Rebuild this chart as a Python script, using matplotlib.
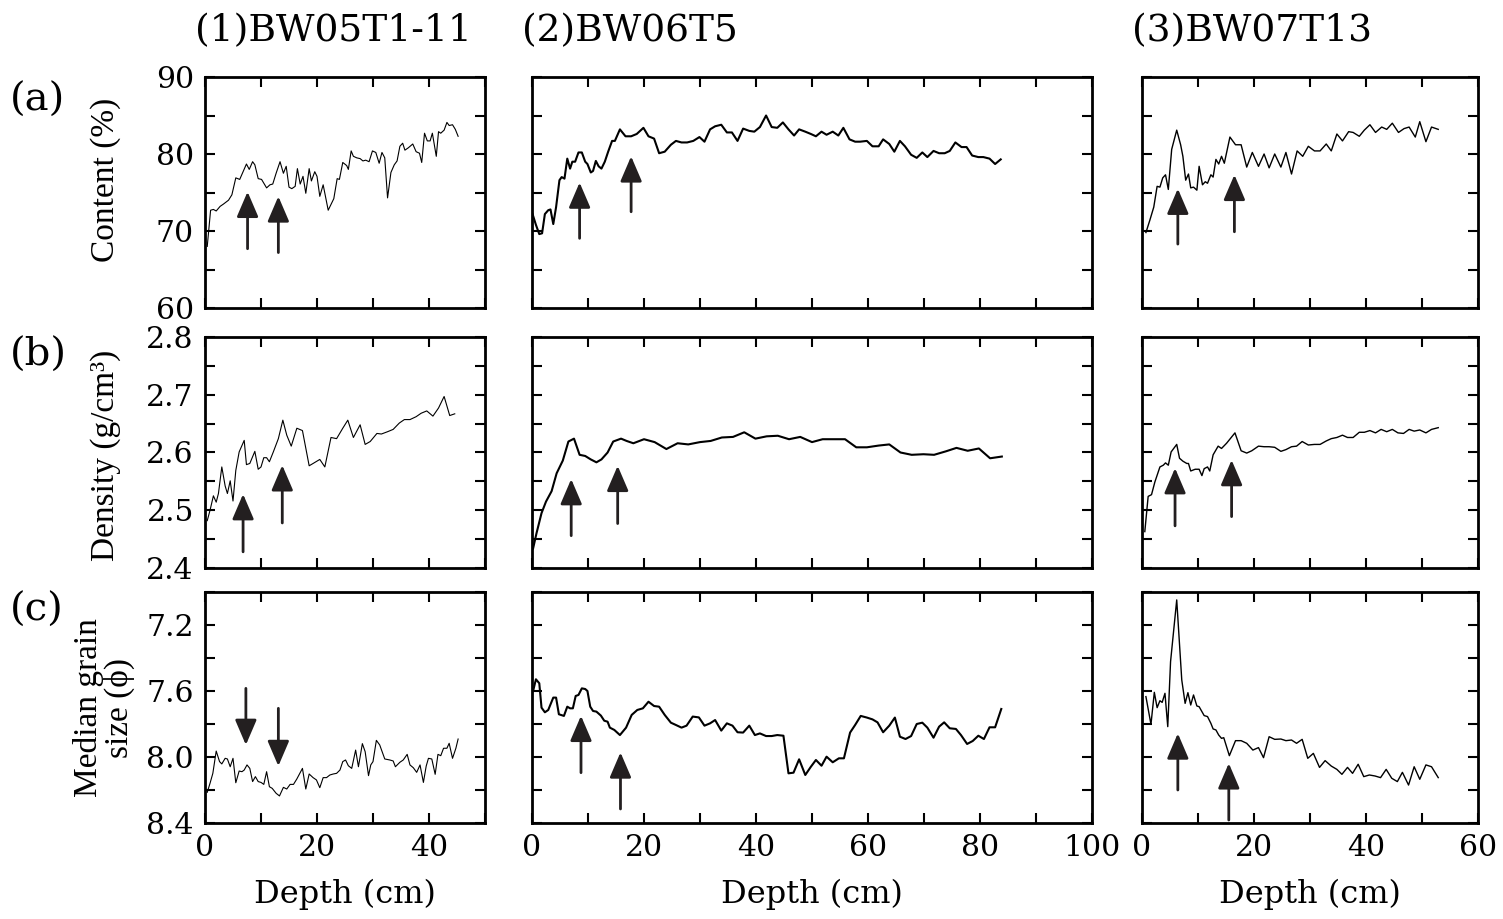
import matplotlib
matplotlib.use("Agg")
import matplotlib.pyplot as plt
from matplotlib.ticker import MultipleLocator, FixedLocator, NullFormatter

plt.rcParams['font.family'] = ['DejaVu Serif']

#%% Data

# (1) BW05T1-11
d1_a = [0.4, 1.0, 1.5, 2.0, 2.7, 3.3, 4.2, 4.8, 5.5, 6.2, 6.8, 7.4, 7.9, 8.5, 8.9, 9.5, 10.1, 11.0, 11.6, 12.1,
        12.7, 13.4, 14.0, 14.5, 15.0, 15.5, 16.1, 16.5, 17.0, 17.5, 18.0, 18.6, 19.0, 19.6, 20.0, 20.5, 21.1, 22.0,
        23.0, 23.6, 24.0, 24.6, 25.3, 25.6, 26.1, 26.5, 27.1, 27.7, 28.2, 28.7, 29.3, 29.9, 30.5, 31.1, 31.6, 32.1,
        32.6, 33.2, 33.8, 34.3, 34.8, 35.3, 35.7, 36.3, 37.1, 37.7, 38.3, 38.7, 39.2, 39.7, 40.2, 40.6, 41.3, 41.7,
        42.1, 42.7, 43.2, 43.6, 44.2, 44.7, 45.2]
content1 = [68.0, 72.7, 72.8, 72.6, 73.2, 73.5, 74.0, 74.7, 76.9, 76.7, 77.7, 78.7, 78.0, 79.0, 78.6, 76.8, 76.7,
            75.6, 76.0, 76.1, 77.5, 79.0, 77.5, 78.4, 75.7, 75.5, 75.8, 78.1, 76.1, 77.1, 74.9, 78.1, 76.5, 77.7,
            77.1, 74.5, 76.0, 72.7, 74.2, 76.8, 76.7, 78.9, 78.5, 78.0, 80.4, 79.7, 79.5, 79.4, 79.1, 79.2, 79.0,
            80.4, 80.2, 78.8, 80.2, 79.5, 74.3, 77.6, 78.6, 79.1, 81.0, 81.4, 80.5, 80.8, 81.3, 80.3, 80.1, 78.9,
            82.7, 81.7, 81.7, 82.7, 79.7, 82.9, 82.7, 83.1, 84.1, 83.7, 83.8, 83.2, 82.3]

d1_b = [0.4, 0.9, 1.5, 2.0, 2.4, 3.0, 3.6, 4.0, 4.5, 5.0, 5.5, 6.1, 7.0, 7.4, 8.0, 8.9, 9.5, 10.0, 10.5, 11.0,
        11.5, 12.2, 13.1, 13.9, 14.6, 15.4, 16.4, 17.4, 18.6, 19.3, 20.5, 21.4, 22.5, 23.5, 24.6, 25.5, 26.5,
        27.7, 28.6, 29.5, 30.7, 31.5, 32.6, 33.6, 34.7, 35.6, 36.6, 37.7, 38.6, 39.6, 40.7, 41.7, 42.7, 43.7, 44.6]
density1 = [2.482, 2.500, 2.525, 2.514, 2.529, 2.575, 2.542, 2.529, 2.551, 2.516, 2.569, 2.601, 2.621, 2.579,
            2.581, 2.602, 2.571, 2.575, 2.591, 2.591, 2.584, 2.601, 2.624, 2.656, 2.630, 2.611, 2.642, 2.638,
            2.577, 2.581, 2.588, 2.575, 2.626, 2.624, 2.642, 2.656, 2.626, 2.648, 2.614, 2.619, 2.633, 2.632,
            2.636, 2.640, 2.651, 2.657, 2.657, 2.662, 2.668, 2.672, 2.663, 2.677, 2.697, 2.664, 2.667]

d1_c = [0.4, 0.9, 1.4, 2.0, 2.6, 3.0, 3.6, 4.0, 4.5, 5.0, 5.5, 6.1, 6.6, 7.0, 7.5, 8.0, 8.5, 9.0, 9.5, 10.0,
        10.5, 11.0, 11.5, 12.0, 12.7, 13.3, 14.0, 14.6, 15.2, 15.8, 16.4, 17.4, 18.0, 18.6, 19.3, 19.9, 20.5,
        21.1, 21.7, 22.3, 22.9, 23.5, 24.1, 24.6, 25.1, 25.6, 26.2, 26.9, 27.4, 28.1, 28.6, 29.2, 29.6, 30.0,
        30.6, 31.2, 32.1, 33.0, 33.6, 34.0, 34.8, 35.4, 36.1, 36.6, 37.2, 37.8, 38.4, 39.0, 39.5, 39.9, 40.5,
        41.1, 41.6, 42.1, 42.6, 43.2, 43.6, 44.2, 44.8, 45.2]
grain1 = [8.214, 8.159, 8.099, 7.964, 8.028, 8.042, 8.008, 8.012, 8.059, 8.008, 8.156, 8.085, 8.089, 8.079,
          8.048, 8.069, 8.149, 8.119, 8.149, 8.154, 8.166, 8.089, 8.180, 8.190, 8.220, 8.236, 8.184, 8.194,
          8.166, 8.166, 8.133, 8.069, 8.194, 8.103, 8.125, 8.139, 8.186, 8.125, 8.125, 8.109, 8.103, 8.099,
          8.079, 8.028, 8.018, 8.053, 8.069, 7.958, 8.059, 7.919, 7.968, 8.113, 8.048, 8.028, 7.899, 7.927,
          8.012, 8.018, 8.024, 8.059, 8.032, 8.018, 7.984, 8.048, 8.065, 8.093, 8.048, 8.154, 8.055, 8.008,
          8.012, 8.105, 7.984, 7.992, 7.947, 7.947, 7.917, 8.008, 7.947, 7.891]

# (2) BW06T5
d2_a = [0.1, 0.7, 1.3, 1.8, 2.3, 2.9, 3.3, 3.8, 4.3, 4.9, 5.3, 5.8, 6.3, 6.8, 7.2, 7.7, 8.3, 8.9, 9.5, 9.9,
        10.5, 10.9, 11.4, 11.9, 12.4, 13.0, 13.6, 14.3, 14.8, 15.7, 16.7, 17.7, 18.7, 19.9, 20.8, 21.8, 22.7,
        23.7, 24.8, 25.7, 26.7, 27.7, 28.8, 29.9, 30.8, 31.8, 32.7, 33.8, 34.8, 35.7, 36.7, 37.7, 38.8, 39.7,
        40.7, 41.8, 42.8, 43.8, 44.8, 45.8, 46.8, 47.7, 48.8, 49.8, 50.7, 51.7, 52.6, 53.7, 54.7, 55.6, 56.7,
        57.7, 58.6, 59.8, 60.8, 61.9, 62.7, 63.8, 64.7, 65.7, 66.6, 67.7, 68.7, 69.7, 70.6, 71.7, 72.7, 73.7,
        74.6, 75.6, 76.7, 77.6, 78.6, 79.7, 80.6, 81.7, 82.7, 83.7]
content2 = [72.2, 70.8, 69.6, 69.7, 72.2, 72.7, 72.8, 70.9, 73.1, 76.6, 77.0, 76.8, 79.4, 78.1, 79.0, 79.0,
            80.2, 80.2, 79.0, 78.7, 77.6, 77.8, 79.1, 78.4, 78.1, 79.0, 80.3, 81.7, 81.7, 83.2, 82.3, 82.3,
            82.6, 83.4, 82.3, 82.0, 80.1, 80.3, 81.2, 81.7, 81.5, 81.5, 81.7, 82.2, 81.6, 83.2, 83.6, 83.8,
            82.8, 82.8, 81.7, 83.3, 83.0, 82.9, 83.5, 85.0, 83.5, 83.4, 84.1, 83.2, 82.4, 83.2, 82.9, 82.6,
            82.3, 82.9, 82.5, 82.9, 82.4, 83.4, 81.9, 81.6, 81.6, 81.7, 81.0, 81.0, 81.9, 81.3, 80.3, 81.7,
            81.0, 79.9, 79.5, 80.2, 79.6, 80.4, 80.1, 80.1, 80.4, 81.5, 80.9, 80.9, 79.8, 79.6, 79.6, 79.4,
            78.7, 79.3]

d2_b = [0.2, 0.8, 1.7, 2.5, 3.5, 4.4, 5.5, 6.5, 7.5, 8.5, 9.5, 10.5, 11.5, 12.4, 13.5, 14.5, 15.9, 16.9, 18.1,
        20.0, 21.9, 24.0, 26.0, 27.9, 30.0, 31.9, 33.9, 35.9, 37.9, 39.9, 41.9, 43.9, 45.9, 47.9, 50.0, 51.9,
        53.9, 55.9, 57.9, 59.8, 61.9, 63.8, 65.8, 67.8, 69.9, 71.8, 73.9, 75.8, 77.8, 79.8, 81.8, 83.9]
density2 = [2.434, 2.460, 2.495, 2.515, 2.533, 2.564, 2.586, 2.619, 2.624, 2.596, 2.594, 2.588, 2.583, 2.588,
            2.600, 2.619, 2.624, 2.620, 2.616, 2.623, 2.618, 2.606, 2.616, 2.614, 2.618, 2.620, 2.626, 2.627,
            2.635, 2.624, 2.628, 2.629, 2.623, 2.627, 2.618, 2.623, 2.623, 2.623, 2.609, 2.609, 2.612, 2.614,
            2.600, 2.596, 2.597, 2.596, 2.602, 2.608, 2.603, 2.607, 2.590, 2.593]

d2_c = [0.2, 0.7, 1.3, 1.7, 2.3, 2.9, 3.8, 4.3, 4.8, 5.7, 6.3, 6.8, 7.3, 7.8, 8.3, 8.9, 9.5, 9.9, 10.4, 10.9,
        11.5, 12.3, 12.9, 13.5, 13.9, 14.7, 15.7, 16.8, 17.8, 18.8, 19.8, 20.8, 21.8, 22.7, 23.7, 24.8, 25.7,
        26.7, 27.6, 28.7, 29.8, 30.8, 31.8, 32.7, 33.8, 34.8, 35.8, 36.7, 37.7, 38.8, 39.8, 40.7, 41.8, 42.8,
        43.8, 44.9, 45.8, 46.7, 47.7, 48.8, 49.8, 50.7, 51.7, 52.6, 53.7, 54.8, 55.7, 56.8, 57.7, 58.7, 59.8,
        60.8, 61.7, 62.7, 63.8, 64.8, 65.7, 66.7, 67.7, 68.7, 69.7, 70.6, 71.7, 72.7, 73.6, 74.6, 75.7, 76.6,
        77.7, 78.7, 79.7, 80.7, 81.7, 82.7, 83.8]
grain2 = [7.600, 7.529, 7.553, 7.701, 7.729, 7.715, 7.640, 7.640, 7.741, 7.751, 7.695, 7.705, 7.705, 7.630,
          7.624, 7.584, 7.588, 7.600, 7.695, 7.721, 7.725, 7.749, 7.780, 7.786, 7.822, 7.836, 7.867, 7.822,
          7.745, 7.715, 7.705, 7.665, 7.691, 7.695, 7.745, 7.792, 7.806, 7.822, 7.810, 7.755, 7.760, 7.810,
          7.796, 7.776, 7.840, 7.796, 7.810, 7.850, 7.852, 7.810, 7.867, 7.857, 7.873, 7.873, 7.867, 7.871,
          8.099, 8.095, 8.014, 8.109, 8.059, 8.018, 8.053, 7.998, 8.032, 8.008, 8.008, 7.852, 7.806, 7.751,
          7.761, 7.772, 7.790, 7.850, 7.810, 7.761, 7.877, 7.891, 7.873, 7.800, 7.792, 7.822, 7.883, 7.816,
          7.790, 7.826, 7.830, 7.867, 7.921, 7.903, 7.871, 7.891, 7.820, 7.820, 7.709]

# (3) BW07T13
d3_a = [0.7, 1.4, 2.1, 2.7, 3.2, 3.7, 4.2, 4.7, 5.3, 6.2, 6.9, 7.3, 7.8, 8.3, 8.7, 9.2, 9.8, 10.2, 10.8, 11.3,
        11.7, 12.3, 12.7, 13.2, 13.7, 14.2, 14.7, 15.7, 16.7, 17.7, 18.7, 19.7, 20.8, 21.8, 22.7, 23.7, 24.8,
        25.7, 26.7, 27.7, 28.7, 29.7, 30.8, 31.8, 32.9, 33.8, 34.8, 35.8, 36.9, 37.7, 38.8, 39.7, 40.7, 41.7,
        42.8, 43.7, 44.7, 45.8, 46.8, 47.7, 48.8, 49.6, 50.7, 51.7, 52.9]
content3 = [69.8, 71.4, 73.1, 75.8, 75.7, 76.9, 77.3, 75.4, 80.6, 83.1, 81.2, 79.7, 76.6, 77.4, 75.6, 75.7,
            75.3, 78.4, 76.0, 76.4, 76.2, 77.3, 77.0, 79.3, 78.7, 79.7, 78.8, 82.2, 81.2, 81.2, 78.3, 80.2,
            78.4, 80.0, 78.2, 80.0, 78.3, 80.2, 77.4, 80.4, 79.7, 81.0, 80.4, 80.4, 81.3, 80.4, 82.6, 81.7,
            82.9, 82.8, 82.3, 83.1, 83.8, 82.8, 83.5, 83.2, 84.0, 82.8, 83.3, 83.5, 82.2, 84.2, 81.6, 83.5, 83.2]

d3_b = [0.5, 1.1, 1.7, 2.3, 3.2, 3.8, 4.2, 4.7, 5.2, 6.2, 6.7, 7.3, 8.0, 8.3, 8.7, 9.5, 10.2, 10.7, 11.1, 11.7,
        12.1, 12.7, 13.6, 14.2, 15.1, 16.6, 17.7, 18.7, 19.6, 20.8, 21.8, 22.7, 23.7, 24.8, 25.7, 26.7, 27.6,
        28.6, 29.7, 30.8, 31.8, 32.9, 33.8, 34.8, 35.8, 36.7, 37.7, 38.8, 39.7, 40.7, 41.7, 42.7, 43.7, 44.7,
        45.7, 46.7, 47.7, 48.6, 49.6, 50.7, 51.7, 52.9]
density3 = [2.463, 2.524, 2.527, 2.549, 2.575, 2.578, 2.582, 2.578, 2.601, 2.614, 2.590, 2.585, 2.581, 2.581,
            2.568, 2.571, 2.571, 2.560, 2.572, 2.575, 2.568, 2.596, 2.611, 2.607, 2.616, 2.634, 2.603, 2.599,
            2.603, 2.611, 2.610, 2.610, 2.609, 2.602, 2.605, 2.610, 2.611, 2.619, 2.613, 2.614, 2.614, 2.620,
            2.624, 2.626, 2.630, 2.626, 2.626, 2.635, 2.635, 2.638, 2.634, 2.640, 2.636, 2.640, 2.634, 2.633,
            2.640, 2.637, 2.639, 2.634, 2.640, 2.643]

d3_c = [0.7, 1.6, 2.2, 2.7, 3.2, 3.6, 4.1, 4.6, 5.1, 6.2, 7.1, 7.7, 8.2, 8.7, 9.2, 9.8, 10.2, 11.1, 11.7, 12.3,
        12.7, 13.2, 13.7, 14.2, 14.6, 15.6, 16.7, 17.7, 18.7, 19.8, 20.8, 21.7, 22.7, 23.7, 24.8, 25.7, 26.7,
        27.6, 28.6, 29.6, 30.6, 31.7, 32.7, 33.8, 34.8, 35.7, 36.7, 37.6, 38.6, 39.6, 40.6, 41.6, 42.6, 43.6,
        44.6, 45.6, 46.5, 47.6, 48.6, 49.6, 50.7, 51.7, 52.9]
grain3 = [7.634, 7.802, 7.608, 7.701, 7.659, 7.669, 7.614, 7.816, 7.422, 7.048, 7.533, 7.675, 7.610, 7.685,
          7.624, 7.691, 7.695, 7.749, 7.755, 7.796, 7.830, 7.836, 7.867, 7.887, 7.883, 7.992, 7.901, 7.901,
          7.917, 7.958, 7.943, 8.004, 7.877, 7.893, 7.891, 7.901, 7.897, 7.917, 7.893, 8.008, 7.978, 8.063,
          8.022, 8.055, 8.075, 8.105, 8.063, 8.099, 8.044, 8.119, 8.109, 8.115, 8.125, 8.075, 8.129, 8.149,
          8.093, 8.170, 8.059, 8.135, 8.048, 8.059, 8.125]

# arrows: (depth, tail value, tip value) for each panel
arrows = {
    (0, 0): [(7.6, 67.7, 75.1), (13.1, 67.2, 74.5)],
    (0, 1): [(8.5, 69.05, 76.3), (17.7, 72.5, 79.7)],
    (0, 2): [(6.4, 68.3, 75.5), (16.5, 69.9, 77.3)],
    (1, 0): [(6.8, 2.428, 2.528), (13.8, 2.478, 2.578)],
    (1, 1): [(7.0, 2.456, 2.554), (15.3, 2.477, 2.577)],
    (1, 2): [(5.9, 2.473, 2.573), (16.0, 2.489, 2.587)],
    (2, 0): [(7.3, 7.584, 7.927), (13.1, 7.705, 8.055)],
    (2, 1): [(8.75, 8.095, 7.750), (15.8, 8.315, 7.972)],
    (2, 2): [(6.4, 8.200, 7.857), (15.5, 8.382, 8.038)],
}

titles  = ['(1)BW05T1-11', '(2)BW06T5', '(3)BW07T13']
xmaxes  = [50, 100, 60]
ylabels = ['Content (%)', 'Density (g/cm³)', 'Median grain\nsize (ϕ)']
rowtags = ['(a)', '(b)', '(c)']

depths = [[d1_a, d2_a, d3_a], [d1_b, d2_b, d3_b], [d1_c, d2_c, d3_c]]
values = [[content1, content2, content3], [density1, density2, density3], [grain1, grain2, grain3]]
lws = [0.8, 1.5, 1.0]

#%% Figure layout (pixel positions of the reference)

W, H = 1503, 919
fig = plt.figure(figsize=(W / 100, H / 100), dpi=100)

col_px = [(205, 280), (532, 560), (1142, 336)]
row_px = [(77, 231), (337, 231), (592, 231)]

for r in range(3):
    for c in range(3):
        x0, w = col_px[c]
        y0, h = row_px[r]
        ax = fig.add_axes([x0 / W, 1 - (y0 + h) / H, w / W, h / H])
        ax.plot(depths[r][c], values[r][c], color='black', lw=lws[c])
        ax.set_xlim(0, xmaxes[c])
        ax.xaxis.set_major_locator(MultipleLocator(20))
        ax.xaxis.set_minor_locator(MultipleLocator(10))
        if r == 0:
            ax.set_ylim(60, 90)
            ax.yaxis.set_major_locator(MultipleLocator(10))
            ax.yaxis.set_minor_locator(MultipleLocator(5))
        elif r == 1:
            ax.set_ylim(2.4, 2.8)
            ax.yaxis.set_major_locator(MultipleLocator(0.1))
            ax.yaxis.set_minor_locator(MultipleLocator(0.05))
            ax.yaxis.set_major_formatter(lambda v, p: f'{v:.1f}')
        else:
            ax.set_ylim(8.4, 7.0)
            ax.yaxis.set_major_locator(FixedLocator([7.2, 7.6, 8.0, 8.4]))
            ax.yaxis.set_minor_locator(MultipleLocator(0.2))
            ax.yaxis.set_major_formatter(lambda v, p: f'{v:.1f}')

        ax.tick_params(which='both', direction='in', top=True, right=True,
                       length=7, width=1.5, labelsize=21.5, pad=8)
        for s in ax.spines.values():
            s.set_linewidth(2.0)
        if c != 0:
            ax.yaxis.set_major_formatter(NullFormatter())
        if r != 2:
            ax.xaxis.set_major_formatter(NullFormatter())
        else:
            ax.set_xlabel('Depth (cm)', fontsize=23, labelpad=12)

        for xa, tail, tip in arrows[(r, c)]:
            ax.annotate('', xy=(xa, tip), xytext=(xa, tail),
                        arrowprops=dict(arrowstyle='-|>,head_length=0.7,head_width=0.3',
                                        mutation_scale=22, lw=2.0, color='#231f20',
                                        shrinkA=0, shrinkB=0))

        if r == 0:
            fig.text((x0 - 10) / W, 1 - 31 / H, titles[c], fontsize=27,
                     ha='left', va='center')

#%% Row tags and y labels

for r in range(3):
    fig.text(10 / W, 1 - [100, 355, 610][r] / H, rowtags[r], fontsize=29,
             ha='left', va='center')

fig.text(106 / W, 1 - 180 / H, ylabels[0], rotation=90, fontsize=24,
         family=['Liberation Serif', 'DejaVu Serif'], ha='center', va='center')
fig.text(106 / W, 1 - 455 / H, ylabels[1], rotation=90, fontsize=24,
         family=['Liberation Serif', 'DejaVu Serif'], ha='center', va='center')
fig.text(104 / W, 1 - 708 / H, ylabels[2], rotation=90, fontsize=24,
         family=['Liberation Serif', 'DejaVu Serif'], ha='center', va='center',
         multialignment='center', linespacing=1.0)

fig.savefig('out.png', dpi=100, facecolor='white')
